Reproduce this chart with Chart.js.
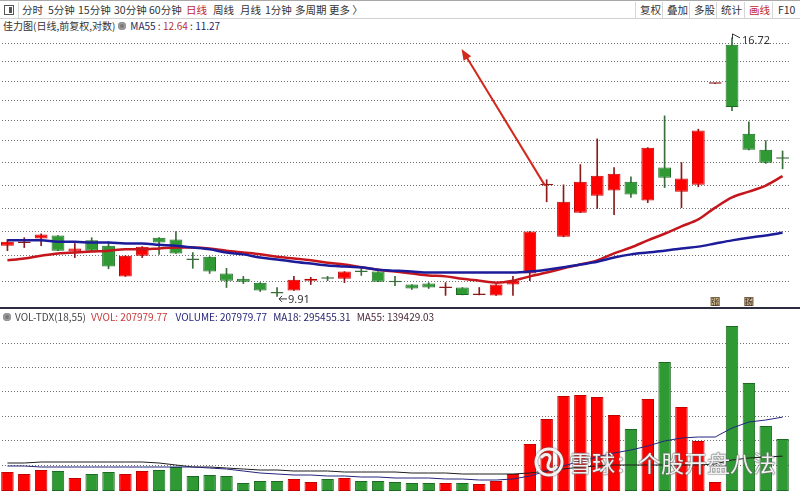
<!DOCTYPE html>
<html lang="zh-CN">
<head>
<meta charset="utf-8">
<title>佳力图 日线</title>
<script src="https://cdn.jsdelivr.net/npm/chart.js@4.4.1/dist/chart.umd.min.js"></script>
<style>
  html, body { margin: 0; padding: 0; }
  body {
    width: 800px; height: 491px; overflow: hidden; position: relative; background: #fff;
    font-family: "Noto Sans CJK SC", "Noto Sans", sans-serif; font-size: 10.5px; color: #333;
  }
  .abs { position: absolute; white-space: nowrap; line-height: 13px; }
  #toolbar {
    position: absolute; left: 0; top: 0; width: 800px; height: 19px; box-sizing: border-box;
    border-top: 1px solid #a8a8a8; border-bottom: 1px solid #d0d0d0;
  }
  #toolbar .abs { top: 2px; }
  .sep { position: absolute; top: 1px; width: 1px; height: 16px; background: #d6d6d6; }
  .red { color: #c0282d; }
  .row {
    position: absolute; display: flex; align-items: center; white-space: nowrap;
    font-size: 10px; line-height: 13px;
  }
  .gear {
    display: inline-block; width: 8px; height: 8px; border-radius: 50%; background: #7a7a7a;
    box-shadow: inset 0 0 0 2px #9a9a9a; margin: 0 4px 0 3px;
  }
  canvas { position: absolute; }
  #divider { position: absolute; left: 0; top: 307px; width: 800px; height: 2px; background: #2c2c3e; }
  #watermark { position: absolute; left: 533px; top: 446px; }
  #watermark .txt {
    position: absolute; left: 36px; top: 0; font-size: 23px; line-height: 32px; white-space: nowrap;
    color: rgba(255,255,255,0.92);
    text-shadow: 0 0 1px #555, 0 0 1px #555, 0 0 2px #777;
  }
</style>
</head>
<body>

<div id="toolbar">
  <div class="abs" style="left:4px;top:4px;width:8px;height:8px;border:1px solid #555;"></div>
  <div class="abs" style="left:9px;top:6px;width:3px;height:6px;background:#555;"></div>
  <div class="sep" style="left:18px"></div>
  <span class="abs" style="left:22px">分时</span>
  <span class="abs" style="left:48px">5分钟</span>
  <span class="abs" style="left:78px">15分钟</span>
  <span class="abs" style="left:114px">30分钟</span>
  <span class="abs" style="left:149px">60分钟</span>
  <span class="abs red" style="left:186px">日线</span>
  <span class="abs" style="left:213px">周线</span>
  <span class="abs" style="left:240px">月线</span>
  <span class="abs" style="left:265px">1分钟</span>
  <span class="abs" style="left:295px">多周期</span>
  <span class="abs" style="left:329px">更多 〉</span>
  <div class="sep" style="left:635px"></div>
  <span class="abs" style="left:640px">复权</span>
  <div class="sep" style="left:662px"></div>
  <span class="abs" style="left:667px">叠加</span>
  <div class="sep" style="left:689px"></div>
  <span class="abs" style="left:694px">多股</span>
  <div class="sep" style="left:716px"></div>
  <span class="abs" style="left:721px">统计</span>
  <div class="sep" style="left:744px"></div>
  <span class="abs red" style="left:749px">画线</span>
  <div class="sep" style="left:772px"></div>
  <span class="abs" style="left:778px">F10</span>
</div>

<div class="row" style="left:3px;top:19px">
  <span>佳力图(日线,前复权,对数)</span><i class="gear"></i>
  <span style="color:#2a2a5a">MA55 :&nbsp;<span id="maShortTxt" style="color:#b8323a"></span>&nbsp;:&nbsp;<span id="maLongTxt" style="color:#1e1e70"></span></span>
</div>

<canvas id="priceChart" width="792" height="275" style="left:-1px;top:32px"></canvas>
<div id="divider"></div>
<canvas id="volChart" width="792" height="181" style="left:-1px;top:310px"></canvas>

<div class="row" style="left:0;top:310px">
  <i class="gear"></i>
  <span style="color:#444;margin-right:5px">VOL-TDX(18,55)</span>
  <span id="vvolTxt" style="color:#c83838;margin-right:8px"></span>
  <span id="volumeTxt" style="color:#262680;margin-right:6px"></span>
  <span id="ma18Txt" style="color:#262668;margin-right:6px"></span>
  <span id="ma55Txt" style="color:#4a2838"></span>
</div>

<div id="watermark">
  <svg width="32" height="32" viewBox="0 0 32 32" style="position:absolute;left:0;top:0">
    <g fill="none" stroke="rgba(255,255,255,0.92)" stroke-width="3" style="filter:drop-shadow(0 0 1px #555)">
      <circle cx="16" cy="16" r="13"/>
      <path d="M8 12 C12 6, 20 8, 16 16 C12 24, 20 26, 24 20"/>
    </g>
  </svg>
  <div class="txt">雪球：个股开盘八法</div>
</div>

<script>
// daily candles, oldest first
const days = ['1','2','3','4','5','6','7','8','9','10','11','12','13','14','15','16','17','18','19','20',
  '21','22','23','24','25','26','27','28','29','30','31','32','33','34','35','36','37','38','39','40',
  '41','42','43','44','45','46','47'];

const opens = [10.98, 11.04, 11.14, 11.21, 10.85, 11.10, 10.98, 10.32, 10.76, 11.16,
  11.12, 10.69, 10.74, 10.38, 10.27, 10.19, 9.99, 10.03, 10.23, 10.28,
  10.27, 10.43, 10.42, 10.22, 10.15, 10.17, 10.08, 10.09, 9.94, 9.93,
  10.15, 10.38, 12.41, 11.18, 11.74, 12.15, 12.28, 12.50, 12.03, 12.86,
  12.25, 12.42, 15.24, 16.49, 13.77, 13.33, 13.11];
const highs = [11.12, 11.16, 11.25, 11.21, 11.03, 11.16, 11.07, 10.76, 10.96, 11.16,
  11.30, 10.83, 10.74, 10.49, 10.32, 10.19, 10.09, 10.32, 10.30, 10.32,
  10.42, 10.51, 10.42, 10.32, 10.15, 10.19, 10.19, 10.09, 10.09, 10.15,
  10.32, 11.30, 12.55, 12.42, 12.94, 13.63, 12.86, 12.62, 13.39, 14.28,
  12.99, 13.90, 15.25, 16.72, 14.11, 13.58, 13.30];
const lows = [10.87, 10.94, 10.98, 10.87, 10.72, 10.87, 10.48, 10.32, 10.72, 10.79,
  10.81, 10.49, 10.38, 10.09, 10.17, 10.01, 9.91, 10.03, 10.15, 10.23,
  10.19, 10.34, 10.21, 10.13, 10.05, 10.07, 9.93, 9.94, 9.94, 9.93,
  9.93, 10.23, 12.00, 11.18, 11.74, 11.84, 11.69, 12.11, 11.98, 12.35,
  11.86, 12.37, 15.24, 14.43, 13.33, 12.97, 12.83];
const closes = [11.07, 11.06, 11.23, 10.87, 10.92, 10.87, 10.53, 10.76, 10.96, 11.05,
  10.81, 10.67, 10.42, 10.23, 10.21, 10.03, 9.97, 10.25, 10.27, 10.27,
  10.42, 10.41, 10.21, 10.20, 10.07, 10.09, 10.10, 9.94, 9.95, 10.15,
  10.23, 11.30, 12.43, 12.00, 12.50, 12.65, 12.70, 12.18, 13.39, 12.60,
  12.58, 13.86, 15.25, 14.54, 13.33, 12.99, 13.09];

// price moving averages (red short line, blue long line)
const maShort = [10.66, 10.70, 10.76, 10.81, 10.83, 10.85, 10.87, 10.90, 10.90, 10.92,
  10.94, 10.94, 10.92, 10.87, 10.83, 10.79, 10.74, 10.70, 10.66, 10.61,
  10.57, 10.51, 10.46, 10.42, 10.38, 10.34, 10.32, 10.27, 10.23, 10.19,
  10.23, 10.32, 10.40, 10.49, 10.57, 10.66, 10.81, 10.94, 11.10, 11.25,
  11.42, 11.58, 11.86, 12.11, 12.25, 12.40, 12.64];
const maLong = [11.10, 11.10, 11.10, 11.07, 11.07, 11.05, 11.05, 11.03, 11.03, 11.00,
  10.98, 10.94, 10.90, 10.83, 10.79, 10.72, 10.68, 10.63, 10.59, 10.55,
  10.53, 10.51, 10.46, 10.44, 10.42, 10.40, 10.40, 10.40, 10.40, 10.40,
  10.40, 10.42, 10.46, 10.51, 10.57, 10.63, 10.72, 10.79, 10.83, 10.87,
  10.92, 10.96, 11.03, 11.10, 11.16, 11.21, 11.27];

const volumes = [76000, 68000, 84000, 80000, 52000, 68000, 76000, 68000, 80000, 84000,
  96000, 60000, 64000, 60000, 32000, 40000, 40000, 48000, 36000, 48000,
  52000, 40000, 40000, 36000, 32000, 32000, 32000, 32000, 28000, 40000,
  68000, 188000, 288000, 380000, 384000, 376000, 304000, 248000, 368000, 516000,
  336000, 200000, 36000, 660000, 432000, 260000, 207979.77];
const volMa18 = [100000, 100000, 96000, 96000, 96000, 96000, 96000, 96000, 96000, 96000,
  96000, 96000, 92000, 88000, 80000, 72000, 68000, 64000, 64000, 60000,
  60000, 56000, 56000, 52000, 52000, 52000, 48000, 48000, 44000, 44000,
  48000, 60000, 80000, 100000, 120000, 136000, 152000, 164000, 180000, 200000,
  212000, 216000, 216000, 252000, 276000, 284000, 295455.31];
const volMa55 = [112000, 112000, 116000, 116000, 116000, 116000, 116000, 116000, 116000, 112000,
  104000, 96000, 96000, 92000, 88000, 84000, 84000, 80000, 80000, 80000,
  76000, 76000, 76000, 76000, 72000, 72000, 72000, 68000, 68000, 68000,
  68000, 72000, 80000, 88000, 96000, 100000, 104000, 104000, 104000, 104000,
  104000, 104000, 108000, 124000, 132000, 136000, 139429.03];

// axis ranges and dotted grid levels
const priceMin = 9.71, priceMax = 16.92;
const priceGrid = [16.52, 15.93, 15.30, 14.72, 14.14, 13.58, 12.99, 12.40, 11.84, 11.30, 10.76, 10.21];
const volMax = 724000;
const volGrid = [104000, 204000, 300000, 396000, 492000, 588000];

// hand-drawn red arrow: [day index, price]
const arrowFrom = [31.9, 12.40];
const arrowTo = [26.95, 16.35];
// small event badges under the candles
const badgeDays = [42, 44];
const badgeText = ['张', '扬'];

const last = a => a[a.length - 1];
document.getElementById('maShortTxt').textContent = last(maShort).toFixed(2);
document.getElementById('maLongTxt').textContent = last(maLong).toFixed(2);
document.getElementById('vvolTxt').textContent = 'VVOL: ' + last(volumes).toFixed(2);
document.getElementById('volumeTxt').textContent = 'VOLUME: ' + last(volumes).toFixed(2);
document.getElementById('ma18Txt').textContent = 'MA18: ' + last(volMa18).toFixed(2);
document.getElementById('ma55Txt').textContent = 'MA55: ' + last(volMa55).toFixed(2);

const UP = '#ff0000', UP_EDGE = '#c20000', UP_WICK = '#8c1a1a';
const DOWN = '#2f9a34', DOWN_EDGE = '#1d6a22', DOWN_WICK = '#3a6e3a';

const isUp = opens.map((o, i) => closes[i] >= o);
const isDoji = opens.map((o, i) => Math.abs(closes[i] - o) < 0.03);
const wickColors = isUp.map(u => u ? UP_WICK : DOWN_WICK);
const bodyColors = isUp.map((u, i) => isDoji[i] ? wickColors[i] : (u ? UP : DOWN));
const edgeColors = isUp.map((u, i) => isDoji[i] ? wickColors[i] : (u ? UP_EDGE : DOWN_EDGE));

const hideX = { type: 'category', display: false, offset: true };
const zeroWidth = s => { s.width = 0; };

const annotate = {
  id: 'annotate',
  afterDatasetsDraw(chart) {
    const { ctx, chartArea } = chart;
    const xs = chart.scales.x, ys = chart.scales.y;
    ctx.save();

    // red arrow
    const x1 = xs.getPixelForValue(arrowFrom[0]), y1 = ys.getPixelForValue(arrowFrom[1]);
    const x2 = xs.getPixelForValue(arrowTo[0]), y2 = ys.getPixelForValue(arrowTo[1]);
    const ang = Math.atan2(y2 - y1, x2 - x1);
    ctx.strokeStyle = '#d3281c';
    ctx.fillStyle = '#d3281c';
    ctx.lineWidth = 2;
    ctx.beginPath();
    ctx.moveTo(x1, y1);
    ctx.lineTo(x2 - 6 * Math.cos(ang), y2 - 6 * Math.sin(ang));
    ctx.stroke();
    ctx.beginPath();
    ctx.moveTo(x2, y2);
    ctx.lineTo(x2 - 12 * Math.cos(ang - 0.38), y2 - 12 * Math.sin(ang - 0.38));
    ctx.lineTo(x2 - 12 * Math.cos(ang + 0.38), y2 - 12 * Math.sin(ang + 0.38));
    ctx.closePath();
    ctx.fill();

    // highest high / lowest low markers
    ctx.font = '11px "Noto Sans", sans-serif';
    ctx.textBaseline = 'middle';
    ctx.fillStyle = '#333';
    ctx.strokeStyle = '#333';
    ctx.lineWidth = 1;
    const hi = Math.max(...highs), hiIdx = highs.indexOf(hi);
    const hx = xs.getPixelForValue(hiIdx), hy = ys.getPixelForValue(hi);
    ctx.beginPath();
    ctx.moveTo(hx + 0.5, hy + 1);
    ctx.lineTo(hx + 0.5, hy - 4);
    ctx.lineTo(hx + 8, hy);
    ctx.stroke();
    ctx.fillText(hi.toFixed(2), hx + 10, hy + 3);

    const lo = Math.min(...lows), loIdx = lows.indexOf(lo);
    const lx = xs.getPixelForValue(loIdx), ly = ys.getPixelForValue(lo) + 2.5;
    ctx.beginPath();
    ctx.moveTo(lx + 2, ly);
    ctx.lineTo(lx + 10, ly);
    ctx.moveTo(lx + 2, ly);
    ctx.lineTo(lx + 5, ly - 3);
    ctx.moveTo(lx + 2, ly);
    ctx.lineTo(lx + 5, ly + 3);
    ctx.stroke();
    ctx.fillText(lo.toFixed(2), lx + 11, ly + 1);

    // event badges
    ctx.font = '8px "Noto Sans CJK SC", sans-serif';
    ctx.textAlign = 'center';
    badgeDays.forEach((d, k) => {
      const bx = xs.getPixelForValue(d);
      const by = chartArea.bottom - 10;
      ctx.fillStyle = '#c9b48e';
      ctx.fillRect(bx - 4.5, by, 9, 9);
      ctx.strokeStyle = '#7a6448';
      ctx.strokeRect(bx - 4, by + 0.5, 8, 8);
      ctx.fillStyle = '#3b2a1e';
      ctx.fillText(badgeText[k], bx, by + 5);
    });
    ctx.restore();
  }
};

new Chart(document.getElementById('priceChart'), {
  type: 'bar',
  data: {
    labels: days,
    datasets: [
      {
        label: 'wick',
        data: lows.map((l, i) => [l, highs[i]]),
        backgroundColor: wickColors,
        barThickness: 1,
        grouped: false,
        order: 3
      },
      {
        label: 'body',
        data: opens.map((o, i) => [o, closes[i]]),
        backgroundColor: bodyColors,
        borderColor: edgeColors,
        borderWidth: 1,
        borderSkipped: false,
        barPercentage: 0.76,
        categoryPercentage: 1,
        minBarLength: 1.5,
        grouped: false,
        order: 2
      },
      {
        type: 'line',
        label: 'MA short',
        data: maShort,
        borderColor: '#c4161c',
        borderWidth: 2.5,
        pointRadius: 0,
        cubicInterpolationMode: 'monotone',
        order: 1
      },
      {
        type: 'line',
        label: 'MA long',
        data: maLong,
        borderColor: '#1c1c9a',
        borderWidth: 2.5,
        pointRadius: 0,
        cubicInterpolationMode: 'monotone',
        order: 0
      }
    ]
  },
  options: {
    responsive: false,
    animation: false,
    events: [],
    plugins: { legend: { display: false }, tooltip: { enabled: false } },
    scales: {
      x: hideX,
      y: {
        type: 'logarithmic',
        min: priceMin,
        max: priceMax,
        afterFit: zeroWidth,
        afterBuildTicks: axis => { axis.ticks = priceGrid.map(v => ({ value: v })); },
        ticks: { display: false },
        grid: { color: '#6e6e6e', lineWidth: 1, drawTicks: false },
        border: { display: false, dash: [1, 2] }
      }
    }
  },
  plugins: [annotate]
});

new Chart(document.getElementById('volChart'), {
  type: 'bar',
  data: {
    labels: days,
    datasets: [
      {
        label: 'VOLUME',
        data: volumes,
        backgroundColor: isUp.map(u => u ? UP : DOWN),
        borderColor: isUp.map(u => u ? UP_EDGE : DOWN_EDGE),
        borderWidth: 1,
        borderSkipped: false,
        barPercentage: 0.74,
        categoryPercentage: 1,
        order: 2
      },
      {
        type: 'line',
        label: 'MA18',
        data: volMa18,
        borderColor: '#24247e',
        borderWidth: 1,
        pointRadius: 0,
        order: 0
      },
      {
        type: 'line',
        label: 'MA55',
        data: volMa55,
        borderColor: '#1e1e1e',
        borderWidth: 1,
        pointRadius: 0,
        order: 1
      }
    ]
  },
  options: {
    responsive: false,
    animation: false,
    events: [],
    plugins: { legend: { display: false }, tooltip: { enabled: false } },
    scales: {
      x: hideX,
      y: {
        min: 0,
        max: volMax,
        afterFit: zeroWidth,
        afterBuildTicks: axis => { axis.ticks = volGrid.map(v => ({ value: v })); },
        ticks: { display: false },
        grid: { color: '#6e6e6e', lineWidth: 1, drawTicks: false },
        border: { display: false, dash: [1, 2] }
      }
    }
  }
});
</script>
</body>
</html>
